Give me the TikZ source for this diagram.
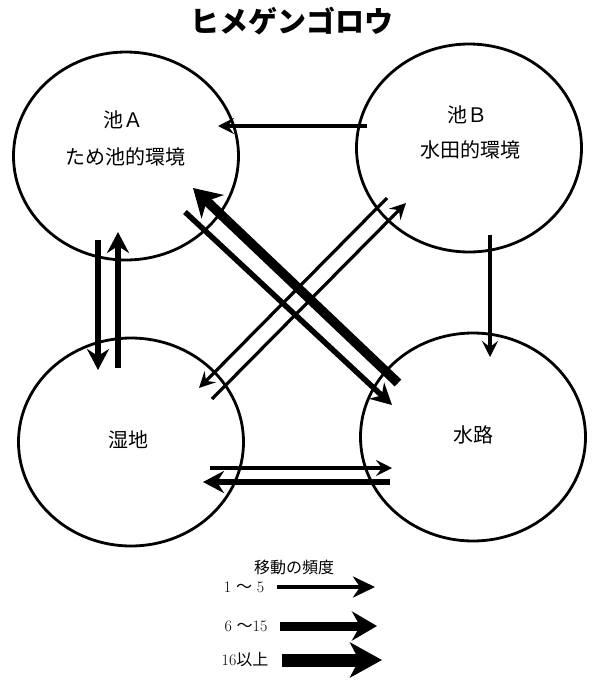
\documentclass[tikz,border=0pt]{standalone}
\usepackage{fontspec}
\newfontfamily\cjk{Noto Sans CJK JP}
\usetikzlibrary{arrows.meta,shapes.geometric}
\tikzset{
  habitat/.style={draw, ellipse, line width=2.8pt, minimum width=225pt, minimum height=208pt, inner sep=0pt},
  place/.style={font=\cjk\fontsize{20}{24}\selectfont},
  few/.style={line width=3.2pt, -{Stealth[length=16pt,width=16pt,inset=6pt]}},
  some/.style={line width=5.5pt, -{Stealth[length=21pt,width=22pt,inset=7pt]}},
  many/.style={line width=9.5pt, -{Stealth[length=27pt,width=32pt,inset=8pt]}},
  keytext/.style={font=\fontsize{16}{18}\selectfont},
}
\begin{document}
\begin{tikzpicture}[x=1pt,y=-1pt]
  \fill[white] (0,0) rectangle (600,686);
  \useasboundingbox (0,0) rectangle (600,686);
  % title
  \node[font=\cjk\bfseries\fontsize{29}{32}\selectfont] (title) at (292,21) {ヒメゲンゴロウ};
  % habitats
  \node[habitat] (pondA) at (126,156) {};
  \node[habitat] (pondB) at (469,148) {};
  \node[habitat] (marsh) at (131,442) {};
  \node[habitat] (canal) at (473,437) {};
  \node[place] (pondAname) at (123,120) {池Ａ};
  \node[place] (pondAtype) at (125,157) {ため池的環境};
  \node[place] (pondBname) at (467,115) {池Ｂ};
  \node[place] (pondBtype) at (470,150) {水田的環境};
  \node[place] (marshname) at (128,440) {湿地};
  \node[place] (canalname) at (473,435) {水路};
  % arrow ends
  \coordinate (BtoA1) at (367,126);  \coordinate (BtoA2) at (218,126);
  \coordinate (AtoM1) at (98,240);   \coordinate (AtoM2) at (98,370);
  \coordinate (MtoA1) at (118,368);  \coordinate (MtoA2) at (118,232);
  \coordinate (CtoA1) at (398,383);  \coordinate (CtoA2) at (193,188);
  \coordinate (AtoC1) at (185,212);  \coordinate (AtoC2) at (392,405);
  \coordinate (BtoM1) at (387,198);  \coordinate (BtoM2) at (199,388);
  \coordinate (MtoB1) at (212,399);  \coordinate (MtoB2) at (406,203);
  \coordinate (BtoC1) at (490,235);  \coordinate (BtoC2) at (490,357);
  \coordinate (MtoC1) at (210,468);  \coordinate (MtoC2) at (392,468);
  \coordinate (CtoM1) at (390,482);  \coordinate (CtoM2) at (203,482);
  % movements
  \draw[few] (BtoA1) -- (BtoA2);
  \draw[some] (AtoM1) -- (AtoM2);
  \draw[some] (MtoA1) -- (MtoA2);
  \draw[many] (CtoA1) -- (CtoA2);
  \draw[some] (AtoC1) -- (AtoC2);
  \draw[few] (BtoM1) -- (BtoM2);
  \draw[few] (MtoB1) -- (MtoB2);
  \draw[few] (BtoC1) -- (BtoC2);
  \draw[few] (MtoC1) -- (MtoC2);
  \draw[some] (CtoM1) -- (CtoM2);
  % legend
  \node[keytext, font=\cjk\fontsize{16}{18}\selectfont] (keytitle) at (294,567) {移動の頻度};
  \node[keytext] (key1) at (244,587) {1 {\cjk ～} 5};
  \node[keytext] (key2) at (246,626) {6 {\cjk ～}15};
  \node[keytext] (key3) at (245,660) {16{\cjk 以上}};
  \coordinate (k1a) at (277,587); \coordinate (k1b) at (375,587);
  \coordinate (k2a) at (280,626); \coordinate (k2b) at (377,626);
  \coordinate (k3a) at (282,660); \coordinate (k3b) at (382,660);
  \draw[line width=4pt, -{Stealth[length=22pt,width=21pt,inset=7pt]}] (k1a) -- (k1b);
  \draw[line width=9pt, -{Stealth[length=25pt,width=29pt,inset=8pt]}] (k2a) -- (k2b);
  \draw[line width=13pt, -{Stealth[length=32pt,width=35pt,inset=9pt]}] (k3a) -- (k3b);
\end{tikzpicture}
\end{document}
